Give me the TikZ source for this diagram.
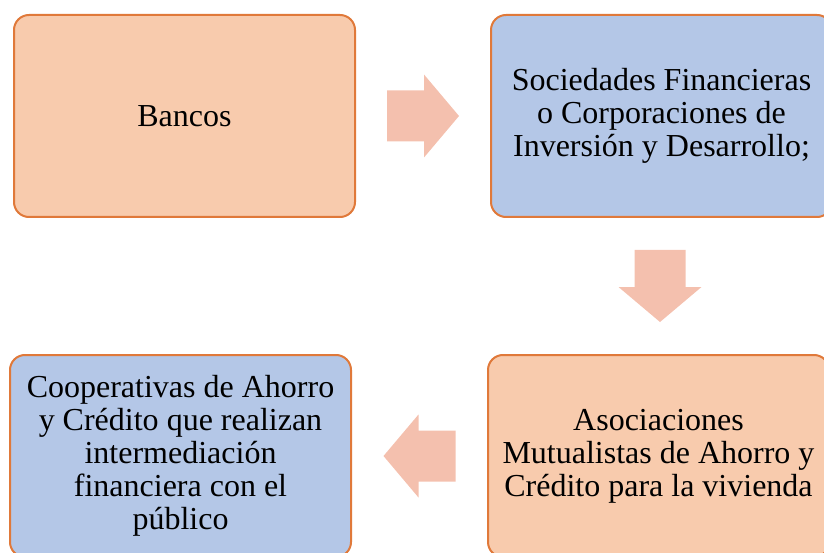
\documentclass[tikz,border=0pt]{standalone}
\usepackage{fontspec}
\setmainfont{Liberation Serif}
\usepackage{tikz}
\usetikzlibrary{positioning, calc}
\definecolor{peachfill}{HTML}{F8CBAD}
\definecolor{bluefill}{HTML}{B4C7E7}
\definecolor{borderorange}{HTML}{E0793A}
\definecolor{arrowfill}{HTML}{F4C0AE}
\tikzstyle{peachbox} = [
    rectangle,
    rounded corners=15pt,
    minimum width=341pt,
    minimum height=202pt,
    align=center,
    font=\fontsize{32}{33}\selectfont,
    draw=borderorange,
    line width=2pt,
    fill=peachfill
]
\tikzstyle{bluebox} = [
    peachbox,
    fill=bluefill
]
% block arrow pointing right, centred on its origin
\tikzset{
    blockarrow/.pic={
        \fill[arrowfill] (-36,-25.5) -- (1,-25.5) -- (1,-41.5) -- (36,0)
            -- (1,41.5) -- (1,25.5) -- (-36,25.5) -- cycle;
    }
}

\begin{document}
\begin{tikzpicture}[x=1pt, y=-1pt]
        \useasboundingbox (0,0) rectangle (824,553);
        \clip (0,0) rectangle (824,553);
        \node (bancos) [peachbox] at (184.5,116) {Bancos};
        \node (sociedades) [bluebox, right=134pt of bancos] {Sociedades Financieras\\o Corporaciones de\\Inversión y Desarrollo;};
        \node (asociaciones) [peachbox, below=136pt of sociedades, xshift=-3pt] {Asociaciones\\Mutualistas de Ahorro y\\Crédito para la vivienda};
        \node (cooperativas) [bluebox, left=135pt of asociaciones] {Cooperativas de Ahorro\\y Crédito que realizan\\intermediación\\financiera con el\\público};

        \coordinate (m1) at ($(bancos.east)!0.5!(sociedades.west)$);
        \coordinate (m2) at ($(sociedades.south)!0.5!(asociaciones.north)$);
        \coordinate (m3) at ($(asociaciones.west)!0.5!(cooperativas.east)$);
        \pic at (m1) {blockarrow};
        \pic[rotate=-90] at (m2) {blockarrow};
        \pic[rotate=180] at (m3) {blockarrow};
    \end{tikzpicture}
\end{document}
